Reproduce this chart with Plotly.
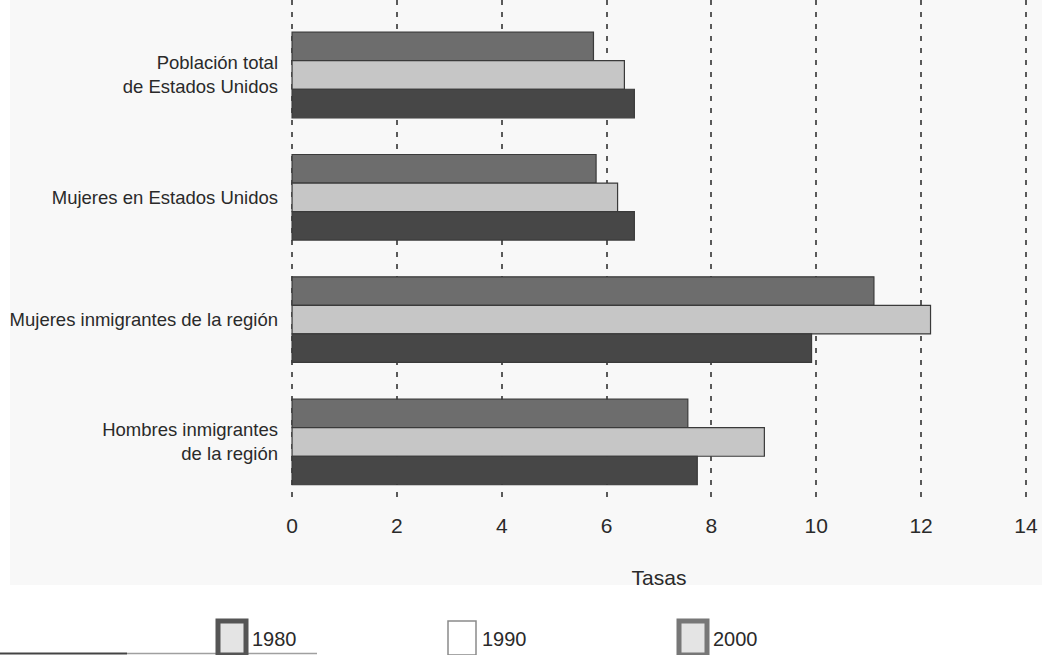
import plotly.graph_objects as go

# Tasas por grupo de población y año censal
categorias = [
    "Población total<br>de Estados Unidos",
    "Mujeres en Estados Unidos",
    "Mujeres inmigrantes de la región",
    "Hombres inmigrantes<br>de la región",
]
anios = ["1980", "1990", "2000"]
tasas_1980 = [5.75, 5.80, 11.10, 7.55]
tasas_1990 = [6.34, 6.21, 12.18, 9.01]
tasas_2000 = [6.53, 6.53, 9.91, 7.73]
ticks_x = [0, 2, 4, 6, 8, 10, 12, 14]

series = [tasas_1980, tasas_1990, tasas_2000]
colores = ["#6d6d6d", "#c6c6c6", "#474747"]

FUENTE = "Liberation Sans, Arial, sans-serif"
W, H = 1042, 655
ML, MR, MT, MB = 291, 15, 0, 158
PW, PH = W - ML - MR, H - MT - MB


def px_x(px):
    return (px - ML) / PW


def px_y(py):
    return (H - MB - py) / PH


fig = go.Figure()
for anio, valores, color in zip(anios, series, colores):
    fig.add_trace(go.Bar(
        y=categorias,
        x=valores,
        name=anio,
        orientation="h",
        marker=dict(color=color, line=dict(color="#3a3a3a", width=1.2)),
        showlegend=False,
    ))

shapes = [
    # fondo gris muy claro del área del gráfico
    dict(type="rect", xref="paper", yref="paper",
         x0=px_x(10), x1=px_x(W + 5), y0=px_y(585), y1=px_y(-5),
         fillcolor="#f8f8f8", line_width=0, layer="below"),
    # filete inferior izquierdo
    dict(type="line", xref="paper", yref="paper",
         x0=px_x(0), x1=px_x(127), y0=px_y(653.5), y1=px_y(653.5),
         line=dict(color="#444444", width=2)),
    dict(type="line", xref="paper", yref="paper",
         x0=px_x(127), x1=px_x(317), y0=px_y(653.5), y1=px_y(653.5),
         line=dict(color="#a0a0a0", width=1.5)),
]

# Leyenda: recuadros y etiquetas de cada año
leyenda = [
    ("1980", 218, "#e4e4e4", "#555555", 5),
    ("1990", 448, "#ffffff", "#8a8a8a", 1.5),
    ("2000", 679, "#e4e4e4", "#777777", 5),
]
annotations = []
for texto, x0, relleno, borde, grosor in leyenda:
    shapes.append(dict(
        type="rect", xref="paper", yref="paper",
        x0=px_x(x0), x1=px_x(x0 + 28), y0=px_y(655), y1=px_y(621),
        fillcolor=relleno, line=dict(color=borde, width=grosor),
    ))
    annotations.append(dict(
        xref="paper", yref="paper", x=px_x(x0 + 32), y=px_y(639),
        xanchor="left", yanchor="middle", showarrow=False,
        text=texto, font=dict(size=20, color="#2a2a2a"),
    ))

fig.update_layout(
    width=W, height=H,
    margin=dict(l=ML, r=MR, t=MT, b=MB, autoexpand=False),
    paper_bgcolor="white",
    plot_bgcolor="rgba(0,0,0,0)",
    barmode="group",
    bargap=0.30,
    bargroupgap=0,
    font=dict(family=FUENTE, size=18.5, color="#2a2a2a"),
    showlegend=False,
    shapes=shapes,
    annotations=annotations,
    xaxis=dict(
        range=[-0.02, 14.02], tickvals=ticks_x,
        showgrid=True, gridcolor="#5a5a5a", griddash="5px,7px", gridwidth=1.5,
        zeroline=False, showline=False, ticks="", automargin=False,
        tickfont=dict(size=21), ticklabelstandoff=14,
        title=dict(text="Tasas", font=dict(size=21), standoff=34),
    ),
    yaxis=dict(
        type="category",
        range=[3.45, -0.613],
        showgrid=False, zeroline=False, showline=False, ticks="",
        automargin=False,
        tickfont=dict(size=18.5), ticklabelstandoff=12,
    ),
)

fig.write_html("out.html")
